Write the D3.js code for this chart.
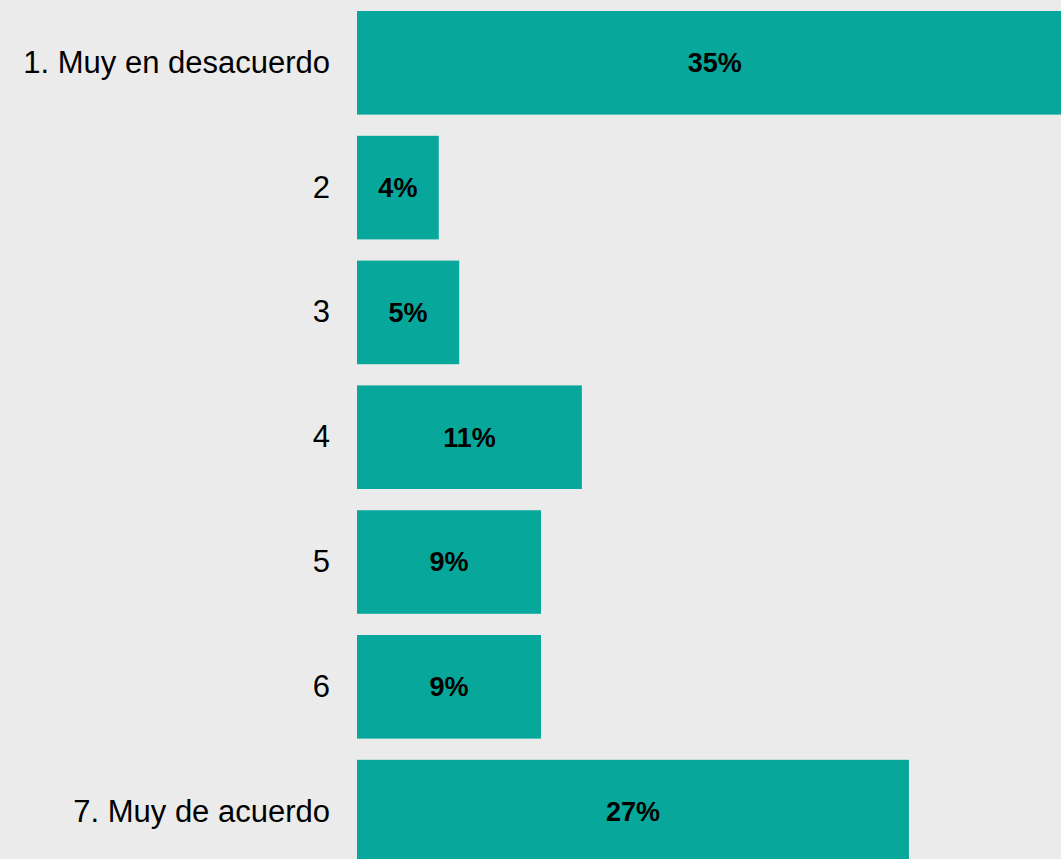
<!DOCTYPE html>
<html>
<head>
<meta charset="utf-8">
<script src="https://cdn.jsdelivr.net/npm/d3@7"></script>
<style>
html, body { margin: 0; padding: 0; background: #ebebeb; overflow: hidden; }
svg { display: block; }
</style>
</head>
<body>
<svg id="chart" width="1061" height="859"></svg>
<script>
const categories = ["1. Muy en desacuerdo", "2", "3", "4", "5", "6", "7. Muy de acuerdo"];
const values = [35, 4, 5, 11, 9, 9, 27];
const valueLabels = ["35%", "4%", "5%", "11%", "9%", "9%", "27%"];

const W = 1061, H = 859;
const svg = d3.select("#chart");
svg.append("rect").attr("width", W).attr("height", H).attr("fill", "#ebebeb");

const x = d3.scaleLinear().domain([0, 35]).range([357, 1072.5]);
const y = d3.scaleBand().domain(categories).range([0.4, 874]).paddingInner(0.17).paddingOuter(0.085);

const data = categories.map((c, i) => ({ c, v: values[i], l: valueLabels[i] }));

svg.selectAll("rect.bar").data(data).enter().append("rect")
  .attr("class", "bar")
  .attr("x", x(0))
  .attr("y", d => y(d.c))
  .attr("width", d => x(d.v) - x(0))
  .attr("height", y.bandwidth())
  .attr("fill", "#07a89b");

svg.selectAll("text.val").data(data).enter().append("text")
  .attr("class", "val")
  .attr("x", d => (x(0) + x(d.v)) / 2)
  .attr("y", d => y(d.c) + y.bandwidth() / 2)
  .attr("dy", "0.35em")
  .attr("text-anchor", "middle")
  .attr("font-family", "Liberation Sans, Arial, sans-serif")
  .attr("font-weight", "bold")
  .attr("font-size", 27)
  .attr("fill", "#000")
  .text(d => d.l);

const yAxis = d3.axisLeft(y).tickSize(0).tickPadding(0);
const g = svg.append("g").attr("transform", `translate(${x(0) - 27},0)`).call(yAxis);
g.select(".domain").remove();
g.selectAll("text")
  .attr("font-family", "Liberation Sans, Arial, sans-serif")
  .attr("font-size", 31)
  .attr("fill", "#000");
</script>
</body>
</html>
